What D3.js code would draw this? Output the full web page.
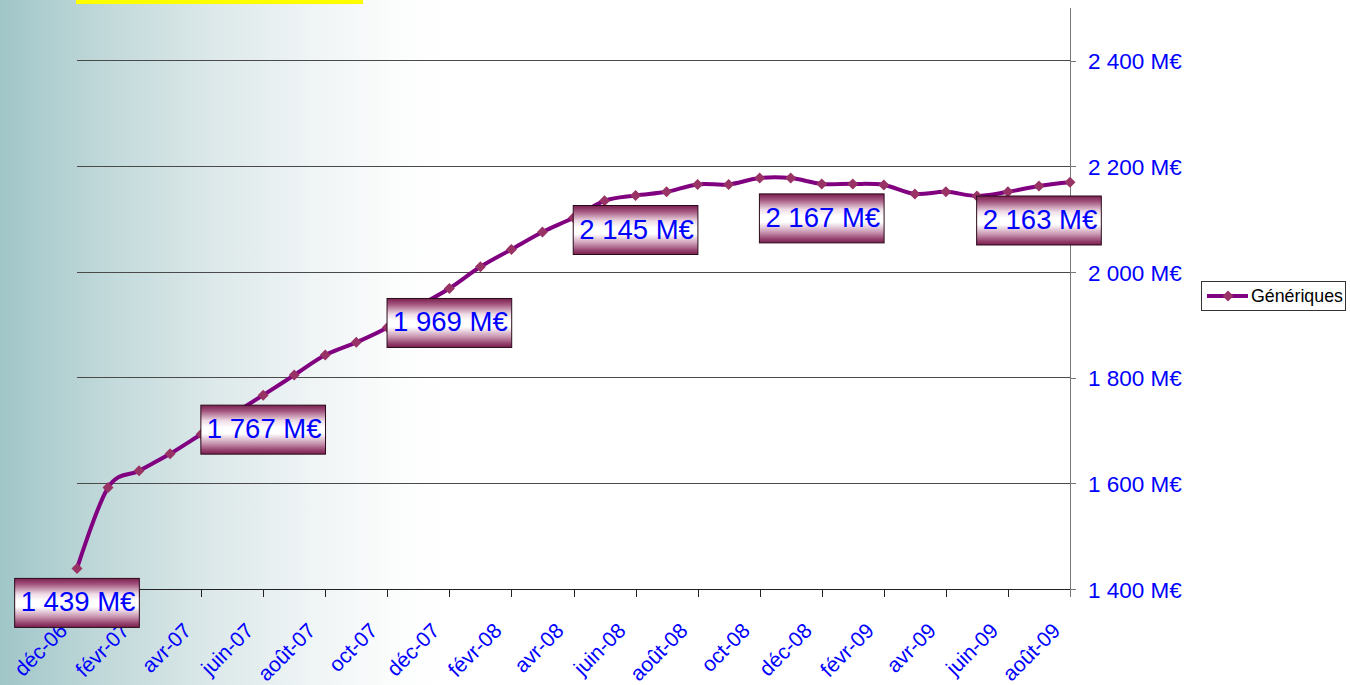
<!DOCTYPE html>
<html><head><meta charset="utf-8">
<script src="https://cdn.jsdelivr.net/npm/d3@7"></script>
<style>body{margin:0;padding:0;overflow:hidden;background:#fff}svg{display:block}</style>
</head><body>
<svg id="chart" width="1350" height="685"></svg>
<script>
const months = ["déc-06","janv-07","févr-07","mars-07","avr-07","mai-07","juin-07","juil-07","août-07","sept-07","oct-07","nov-07","déc-07","janv-08","févr-08","mars-08","avr-08","mai-08","juin-08","juil-08","août-08","sept-08","oct-08","nov-08","déc-08","janv-09","févr-09","mars-09","avr-09","mai-09","juin-09","juil-09","août-09"];
const generiques = [1439,1592,1624,1656,1693,1730,1767,1805,1843,1867,1895,1935,1969,2010,2043,2076,2103,2135,2145,2152,2166,2166,2178,2178,2167,2167,2165,2148,2152,2144,2152,2163,2170];
const labelledIdx = [0,6,12,18,24,31];
const yTicks = [1400,1600,1800,2000,2200,2400];
const seriesName = "Génériques";

const svg = d3.select("#chart");
const W = 1350, H = 685;
const FONT = "'Liberation Sans', Arial, sans-serif";

const defs = svg.append("defs");
const bg = defs.append("linearGradient").attr("id","bg").attr("x1","0").attr("x2","1").attr("y1","0").attr("y2","0");
[[0,"#a0c6c8"],[0.08,"#c2d9da"],[0.16,"#dde9ea"],[0.23,"#eff4f5"],[0.29,"#fbfcfc"],[0.33,"#ffffff"],[1,"#ffffff"]]
  .forEach(([o,c])=>bg.append("stop").attr("offset",o).attr("stop-color",c));
const lg = defs.append("linearGradient").attr("id","lbl").attr("x1","0").attr("x2","0").attr("y1","0").attr("y2","1");
[[0,"#7a1f4f"],[0.12,"#a3557e"],[0.32,"#eedbe5"],[0.45,"#ffffff"],[0.58,"#ffffff"],[0.78,"#c996b1"],[0.92,"#94416d"],[1,"#7a1f4f"]]
  .forEach(([o,c])=>lg.append("stop").attr("offset",o).attr("stop-color",c));

svg.append("rect").attr("width",W).attr("height",H).attr("fill","url(#bg)");
svg.append("rect").attr("x",76).attr("y",0).attr("width",287).attr("height",4).attr("fill","#ffff00");

const x = d3.scalePoint().domain(months).range([77,1070]);
const y = d3.scaleLinear().domain([1400,2500]).range([589,8]);
const fmt = v => d3.format(",")(v).replace(/,/g," ") + " M€";

// gridlines
svg.append("g").selectAll("line").data(yTicks.filter(t=>t>1400)).join("line")
  .attr("x1",77).attr("x2",1070).attr("y1",d=>y(d)).attr("y2",d=>y(d))
  .attr("stroke","#4a4a4a").attr("stroke-width",1).attr("shape-rendering","crispEdges");

// x axis
const xAxis = d3.axisBottom(x).tickValues(months.filter((m,i)=>i%2===0)).tickSize(8).tickSizeOuter(0);
const gx = svg.append("g").attr("transform","translate(0,589)").call(xAxis);
gx.select(".domain").attr("stroke","#222").attr("shape-rendering","crispEdges");
gx.selectAll(".tick line").attr("stroke","#222").attr("shape-rendering","crispEdges");
gx.selectAll(".tick text")
  .attr("font-family",FONT).attr("font-size",21).attr("fill","#0000ff")
  .attr("text-anchor","end").attr("dy",null).attr("y",null)
  .attr("transform","translate(-9,43) rotate(-45)");

// y axis (right)
const yAxis = d3.axisRight(y).tickValues(yTicks).tickSize(6).tickSizeOuter(0).tickFormat(fmt);
const gy = svg.append("g").attr("transform","translate(1070,0)").call(yAxis);
gy.select(".domain").attr("stroke","#777").attr("d","M0,8V597").attr("shape-rendering","crispEdges");
gy.selectAll(".tick line").attr("stroke","#777").attr("shape-rendering","crispEdges");
gy.selectAll(".tick text").attr("font-family",FONT).attr("font-size",22.5).attr("fill","#0000ff").attr("x",18).attr("dy","0.36em");

// line
const line = d3.line().x((d,i)=>x(months[i])).y(d=>y(d)).curve(d3.curveCardinal.tension(0));
svg.append("path").datum(generiques).attr("d",line).attr("fill","none").attr("stroke","#800080").attr("stroke-width",4).attr("stroke-linejoin","round");

const diamond = "M0,-5.5L5.5,0L0,5.5L-5.5,0Z";
svg.append("g").selectAll("path").data(generiques).join("path")
  .attr("d",diamond).attr("transform",(d,i)=>`translate(${x(months[i])},${y(d)})`).attr("fill","#993366");

// data labels
const lab = svg.append("g").selectAll("g").data(labelledIdx).join("g")
  .attr("transform",i=>`translate(${x(months[i])},${y(generiques[i])+34.5})`);
lab.each(function(i){
  const g = d3.select(this);
  const r = g.append("rect");
  const t = g.append("text").text(fmt(generiques[i])).attr("font-family",FONT).attr("font-size",27.5)
    .attr("fill","#0000ff").attr("text-anchor","middle").attr("x",1).attr("y",8.5);
  const w = t.node().getComputedTextLength() + 10;
  r.attr("x",-w/2).attr("y",-24.5).attr("width",w).attr("height",49).attr("fill","url(#lbl)").attr("stroke","#2a0a1a").attr("stroke-width",1);
});

// legend
const leg = svg.append("g");
leg.append("rect").attr("x",1201.5).attr("y",281.5).attr("width",144).attr("height",29).attr("fill","#fff").attr("stroke","#333");
leg.append("line").attr("x1",1207).attr("x2",1248).attr("y1",296).attr("y2",296).attr("stroke","#800080").attr("stroke-width",4);
leg.append("path").attr("d",diamond).attr("transform","translate(1228,296)").attr("fill","#993366");
leg.append("text").attr("x",1251).attr("y",296).attr("dy","0.35em").text(seriesName)
  .attr("font-family",FONT).attr("font-size",17.8).attr("fill","#000");
</script>
</body></html>
